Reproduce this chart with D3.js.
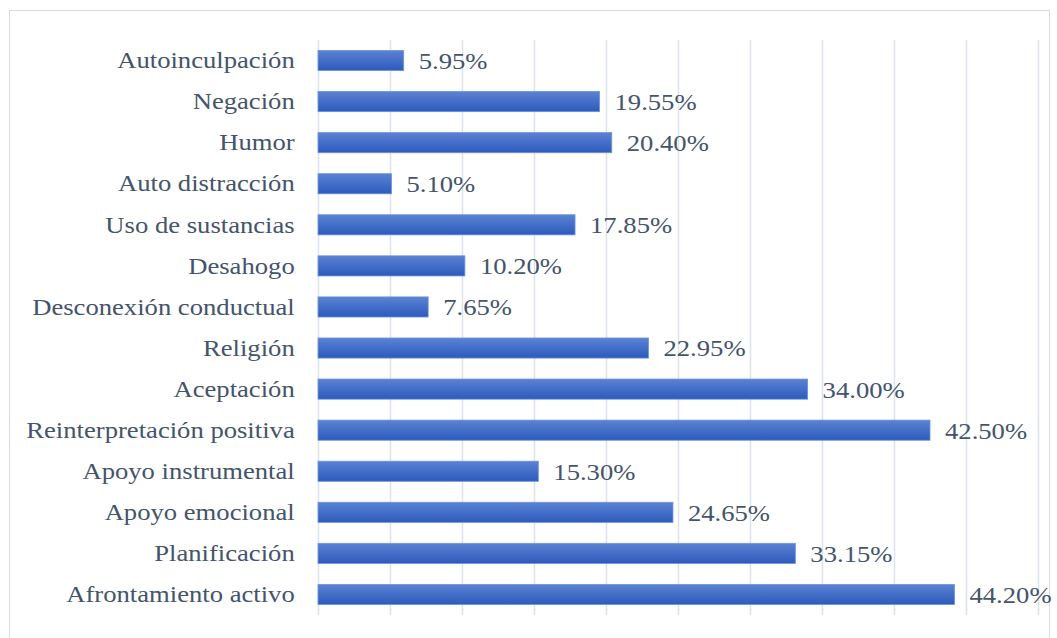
<!DOCTYPE html>
<html>
<head>
<meta charset="utf-8">
<script src="https://cdn.jsdelivr.net/npm/d3@7"></script>
<style>
  body { margin: 0; background: #fff; }
</style>
</head>
<body>
<div id="chart"></div>
<script>
const categories = [
  "Autoinculpación",
  "Negación",
  "Humor",
  "Auto distracción",
  "Uso de sustancias",
  "Desahogo",
  "Desconexión conductual",
  "Religión",
  "Aceptación",
  "Reinterpretación positiva",
  "Apoyo instrumental",
  "Apoyo emocional",
  "Planificación",
  "Afrontamiento activo",
]
const values = [5.95, 19.55, 20.4, 5.1, 17.85, 10.2, 7.65, 22.95, 34.0, 42.5, 15.3, 24.65, 33.15, 44.2]
const gridTicks = [0, 5, 10, 15, 20, 25, 30, 35, 40, 45, 50]

const width = 1057
const height = 638
const margin = { top: 40, right: 19, bottom: 23, left: 318 }
const innerW = width - margin.left - margin.right
const innerH = height - margin.top - margin.bottom
const fontFamily = "Liberation Serif"
const textColor = "#44546a"
const stretch = 1.11 // the reference text is slightly wide

const data = categories.map((c, i) => ({ name: c, value: values[i] }))

const svg = d3
  .select("#chart")
  .append("svg")
  .attr("width", width)
  .attr("height", height)

const grad = svg
  .append("defs")
  .append("linearGradient")
  .attr("id", "barGrad")
  .attr("x1", 0)
  .attr("y1", 0)
  .attr("x2", 0)
  .attr("y2", 1)
grad.append("stop").attr("offset", "0%").attr("stop-color", "#5b82d3")
grad.append("stop").attr("offset", "100%").attr("stop-color", "#2c5bbd")

// outer frame
svg
  .append("rect")
  .attr("x", 9.5)
  .attr("y", 10.5)
  .attr("width", 1040)
  .attr("height", 640)
  .attr("fill", "none")
  .attr("stroke", "#d9d9d9")

const g = svg
  .append("g")
  .attr("transform", "translate(" + margin.left + "," + margin.top + ")")

const xScale = d3.scaleLinear().domain([0, 50]).range([0, innerW])
const yScale = d3
  .scaleBand()
  .domain(categories)
  .range([0, innerH])
  .paddingInner(0.51)
  .paddingOuter(0.255)

// vertical gridlines
g.append("g")
  .attr("class", "grid")
  .selectAll("line")
  .data(gridTicks)
  .enter()
  .append("line")
  .attr("x1", d => Math.round(xScale(d)) + 0.5)
  .attr("x2", d => Math.round(xScale(d)) + 0.5)
  .attr("y1", 0)
  .attr("y2", innerH)
  .attr("stroke", "#dde2ec")
  .attr("stroke-width", 1.5)

// category axis
const yAxis = g.append("g").call(d3.axisLeft(yScale).tickSize(0).tickPadding(21))
yAxis.select(".domain").remove()
yAxis
  .selectAll("text")
  .attr("font-size", 24)
  .attr("font-family", fontFamily)
  .attr("fill", textColor)
  .attr("transform", `scale(${stretch},1)`)

// bars
g.append("g")
  .selectAll("rect")
  .data(data)
  .enter()
  .append("rect")
  .attr("x", 0)
  .attr("y", d => yScale(d.name))
  .attr("width", d => xScale(d.value))
  .attr("height", yScale.bandwidth())
  .attr("fill", "url(#barGrad)")
  .attr("stroke", "#6f93d8")
  .attr("stroke-width", 0.8)

// value labels
g.append("g")
  .selectAll("text")
  .data(data)
  .enter()
  .append("text")
  .attr("transform", d =>
    `translate(${xScale(d.value) + 15},${yScale(d.name) + yScale.bandwidth() / 2}) scale(${stretch},1)`
  )
  .attr("dy", "0.35em")
  .attr("font-size", 24)
  .attr("font-family", fontFamily)
  .attr("fill", textColor)
  .text(d => d.value.toFixed(2) + "%")
</script>
</body>
</html>
